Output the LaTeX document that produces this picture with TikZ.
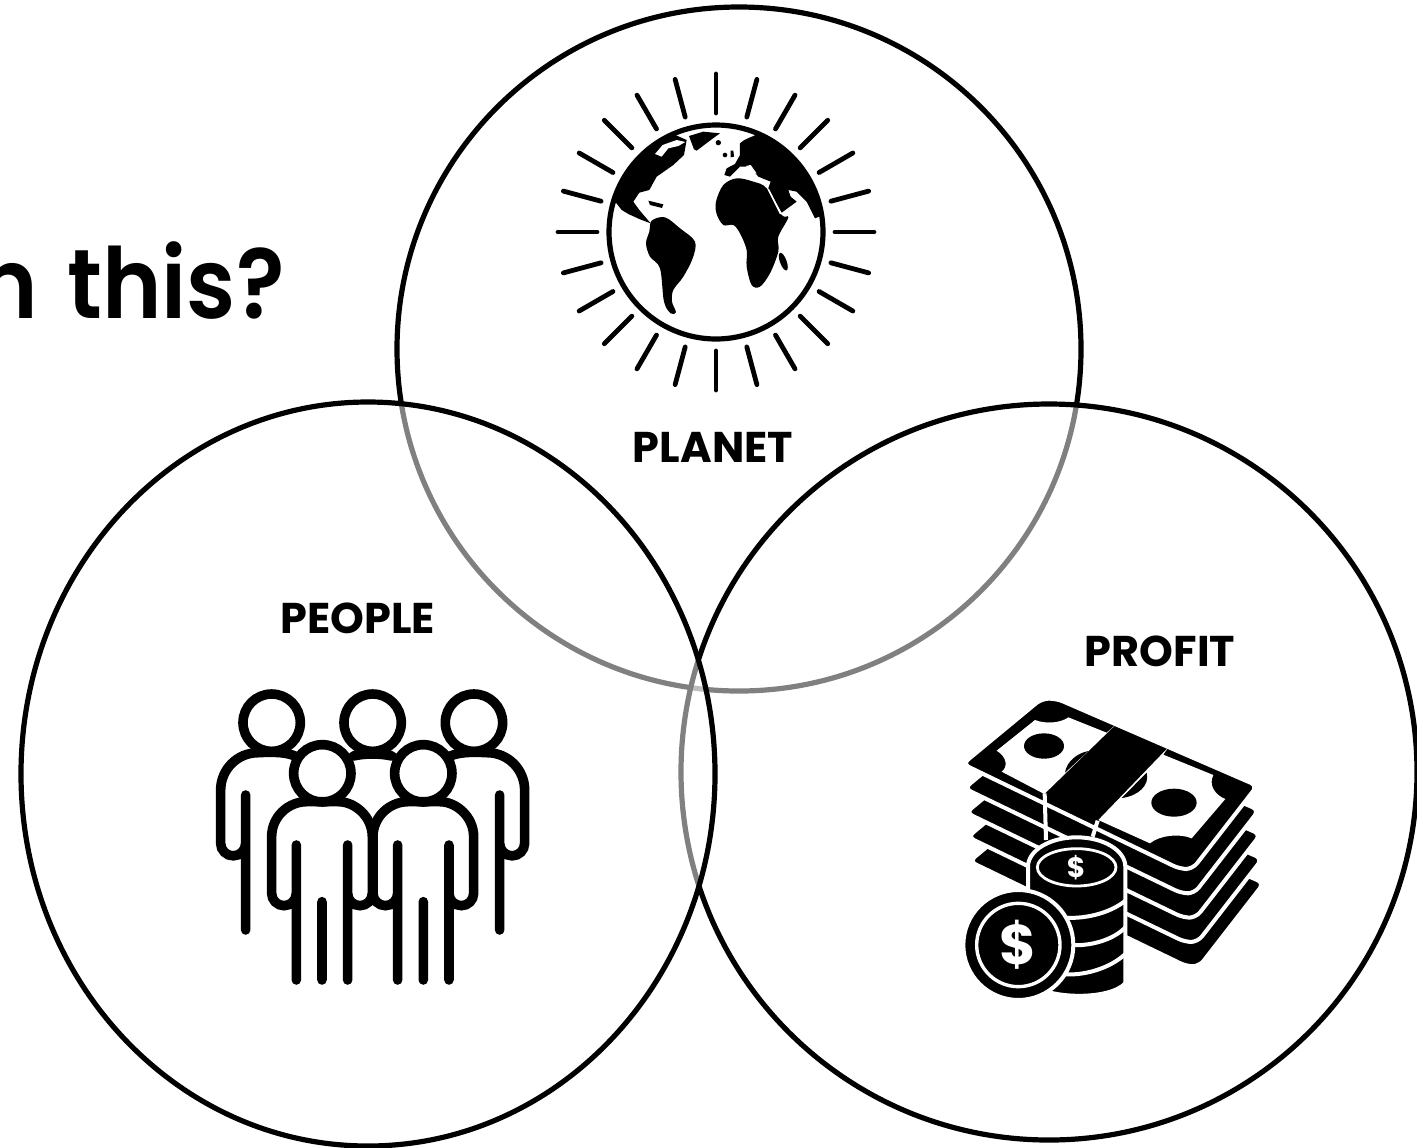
\documentclass[tikz,border=0pt]{standalone}
\usepackage{fontspec}
\setmainfont{Poppins}
\newfontfamily\titlefont{Poppins SemiBold}
\tikzset{
  venn/.style={draw=black, line width=2.6pt, fill=white, fill opacity=.5},
  label/.style={font=\fontsize{21.5}{22}\selectfont\bfseries, inner sep=0pt},
  ray/.style={line width=2.4pt, line cap=round},
  land/.style={fill=black, smooth cycle, tension=.55},
  limb/.style={line width=4.8pt, line cap=round},
  note/.style={fill=black, draw=white, line width=2pt, rounded corners=3.5pt},
  seam/.style={draw=white, line width=2pt},
}
\begin{document}
\begin{tikzpicture}[x=.5pt, y=-.5pt]
  \clip (0,0) rectangle (1417,1147);
  \fill[white] (0,0) rectangle (1417,1147);

  % circles, the last one on top
  \path[venn] (739,349) circle [radius=342];
  \path[venn] (1049,772) circle [radius=368];
  \path[venn] (368,774) ellipse [x radius=347, y radius=372];

  \node (title) [anchor=base east, inner sep=0pt, xscale=.92, font=\fontsize{49}{49}\titlefont] at (285,318) {n \hspace{4pt}this?};

  % planet
  \begin{scope}[shift={(716,232)}]
    \foreach \a in {0,15,...,345} {
      \draw[ray] (\a:119) -- (\a:158);
    }
    \draw[line width=2.6pt] (0,0) circle [radius=107];
  \end{scope}
  \begin{scope}[shift={(540,60)}, scale=.3333]
    % america
    \fill (526,518) ++(198:321) arc [start angle=198, end angle=247, radius=321] -- (440,240) -- (432,285) -- (400,315) -- (350,350) -- (328,390) -- (298,398) -- (280,425) -- (298,450) -- (332,490) -- (300,478) -- (265,462) -- (245,450) -- cycle;
    \fill[white] (345,282) -- (368,255) -- (410,240) -- (436,246) -- (415,258) -- (385,265) -- (365,290) -- cycle;
    \fill (325,422) -- (370,433) -- (366,444) -- (330,435) -- cycle;
    \fill[land] plot coordinates {(335,482) (375,472) (420,505) (465,545) (458,595) (430,650) (400,690) (396,725) (408,757) (392,760) (372,725) (360,625) (330,590) (318,550) (328,515)};
    % greenland, iceland, uk
    \fill (447,228) -- (490,215) -- (540,220) -- (515,238) -- (470,272) -- (462,268) -- cycle;
    \fill (535,248) circle [radius=8];
    \fill (555,285) circle [radius=7];
    \fill (572,272) -- (580,272) -- (582,290) -- (572,292) -- cycle;
    % eurasia
    \fill (600,250) .. controls (615,235) and (635,232) .. (651,223) arc [start angle=293, end angle=351, radius=321] -- (825,475) -- (800,425) -- (770,395) -- (745,390) -- (752,410) -- (770,425) -- (725,458) -- (685,385) -- (692,365) -- (655,350) -- (630,320) -- (600,320) -- (570,350) -- (553,345) -- (560,325) -- (585,312) -- (600,285) -- cycle;
    \fill[white] (618,318) -- (632,315) -- (650,340) -- (640,340) -- cycle;
    % africa
    \fill[land] plot coordinates {(528,425) (550,375) (590,355) (640,365) (680,385) (725,465) (745,472) (715,530) (715,575) (690,640) (660,680) (635,675) (620,620) (620,570) (600,520) (580,495) (550,495) (530,462)};
    \draw[white, line width=.8pt] (685,388) -- (722,462);
    \fill[rotate around={20:(730,605)}] (730,605) ellipse [x radius=10, y radius=28];
  \end{scope}
  \node (planet) [label] at (713,447) {PLANET};

  % people
  \begin{scope}[shift={(200,680)}, scale=.3333]
    \foreach \cx in {215,518,822} {
      \draw[limb] (\cx,128) circle [radius=86];
    }
    \foreach \cx in {367,670} {
      \draw[limb] (\cx,280) circle [radius=86];
    }
    % back row
    \draw[limb] (285,228) .. controls (260,218) and (230,215) .. (175,218) .. controls (110,218) and (62,270) .. (62,330) -- (62,490) arc [start angle=180, end angle=0, radius=37.5] (137,345) -- (137,750);
    \draw[limb] (751,228) .. controls (776,218) and (806,215) .. (861,218) .. controls (926,218) and (974,270) .. (974,330) -- (974,490) arc [start angle=0, end angle=180, radius=37.5] (899,345) -- (899,750);
    \draw[limb] (460,228) .. controls (495,220) and (540,220) .. (576,228);
    % front row
    \foreach \dx in {0,304} {
      \begin{scope}[shift={(\dx,0)}]
        \draw[limb] (443,900) -- (443,495) (443,640) arc [start angle=180, end angle=0, radius=37] -- (517,470) .. controls (517,410) and (465,365) .. (415,365) -- (320,365) .. controls (265,365) and (215,410) .. (215,470) -- (215,640) arc [start angle=180, end angle=0, radius=37] (289,495) -- (289,900) (366,665) -- (366,900);
      \end{scope}
    }
  \end{scope}
  \node (people) [label] at (358,618) {PEOPLE};

  % profit
  \begin{scope}[shift={(950,690)}, scale=.3333]
    % bills, bottom one first
    \foreach \n in {4,3,2,1,0} {
      \path[note] ({38+5*\n},{222+73*\n}) -- ({275+5*\n},{26+73*\n}) -- ({320+5*\n},{26+73*\n}) -- ({922+5*\n},{287+73*\n}) -- ({728+5*\n},{537+73*\n}) -- ({690+5*\n},{537+73*\n}) -- cycle;
    }
    \fill[white] (140,182) -- (255,90) .. controls (285,102) and (330,100) .. (355,82) -- (470,128) -- (497,104) -- (283,312) -- (155,245) .. controls (175,230) and (170,200) .. (140,182) -- cycle;
    \fill (282,168) ellipse [x radius=60, y radius=38];
    \fill (345,248) .. controls (350,215) and (380,190) .. (415,183) -- cycle;
    \fill[white] (655,172) -- (640,194) -- (790,255) .. controls (775,285) and (795,315) .. (826,327) -- (725,445) .. controls (690,430) and (630,435) .. (600,460) -- (445,390) -- cycle;
    \fill (672,338) ellipse [x radius=68, y radius=42];
    \fill (515,324) -- (590,248) .. controls (600,285) and (565,318) .. (515,324) -- cycle;
    \path[seam] (284,310) -- (288,450) (443,392) -- (428,440);
    % coins
    \path[fill=black, draw=white, line width=2pt] (234,530) arc [start angle=180, end angle=360, x radius=146, y radius=88] -- (526,880) .. controls (480,930) and (300,930) .. (234,880) -- cycle;
    \draw[white, line width=1.4pt] (380,532) ellipse [x radius=118, y radius=56];
    \path[seam] (330,682) .. controls (400,690) and (480,670) .. (526,632) (355,765) .. controls (420,770) and (490,750) .. (526,712) (330,852) .. controls (400,860) and (480,835) .. (526,792);
    \path[fill=black, draw=white, line width=2pt] (205,765) circle [radius=165];
    \draw[white, line width=1.7pt] (205,765) circle [radius=125];
    \node (bigdollar) [text=white, inner sep=0pt, font=\fontsize{28}{28}\selectfont\bfseries] at (205,765) {\$};
    \node (smalldollar) [text=white, inner sep=0pt, font=\fontsize{14}{14}\selectfont\bfseries] at (378,532) {\$};
  \end{scope}
  \node (profit) [label] at (1160,651) {PROFIT};
\end{tikzpicture}
\end{document}
